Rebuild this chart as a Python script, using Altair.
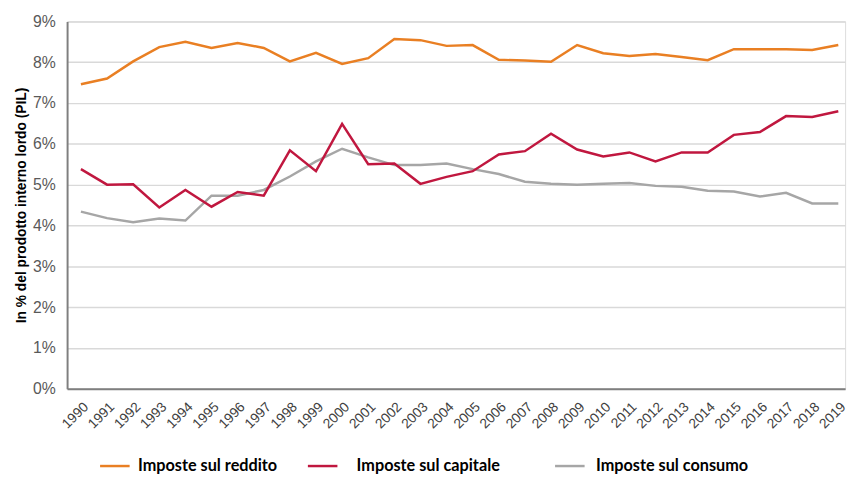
import altair as alt
import pandas as pd

anni = list(range(1990, 2020))
reddito = [7.46, 7.60, 8.02, 8.37, 8.50, 8.35, 8.47, 8.35, 8.02, 8.23,
           7.96, 8.10, 8.57, 8.54, 8.40, 8.42, 8.06, 8.04, 8.01, 8.42,
           8.22, 8.15, 8.20, 8.13, 8.05, 8.32, 8.32, 8.32, 8.30, 8.42]
capitale = [5.38, 5.00, 5.01, 4.44, 4.87, 4.46, 4.82, 4.73, 5.84, 5.33,
            6.49, 5.50, 5.52, 5.02, 5.19, 5.33, 5.74, 5.82, 6.25, 5.86,
            5.69, 5.79, 5.57, 5.79, 5.79, 6.22, 6.29, 6.68, 6.66, 6.80]
consumo = [4.34, 4.18, 4.08, 4.17, 4.12, 4.73, 4.73, 4.87, 5.20, 5.57,
           5.88, 5.67, 5.48, 5.48, 5.52, 5.38, 5.26, 5.07, 5.02, 5.00,
           5.02, 5.04, 4.97, 4.95, 4.85, 4.83, 4.71, 4.80, 4.54, 4.54]

serie = ["Imposte sul reddito", "Imposte sul capitale", "Imposte sul consumo"]
colori = ["#E97F23", "#C0173F", "#A6A6A6"]
valori = [reddito, capitale, consumo]
legend_x = [32, 243, 494]
legend_off = [7, 18, 10]

rows = []
for nome, vals in zip(serie, valori):
    for a, v in zip(anni, vals):
        rows.append({"anno": a, "valore": v, "serie": nome})
df = pd.DataFrame(rows)

x_enc = alt.X(
    "anno:Q",
    scale=alt.Scale(domain=[1989.47, 2019.26], nice=False, zero=False),
    axis=alt.Axis(values=anni, format="d", labelAngle=-45, title=None, grid=False,
                  ticks=False, labelPadding=11, labelFontSize=14, labelColor="#404040",
                  labelFont="Liberation Sans", domainColor="#7F7F7F", domainWidth=2,
                  labelOverlap=False, labelBound=False, labelFlush=False),
)
y_enc = alt.Y(
    "valore:Q",
    scale=alt.Scale(domain=[0, 9], nice=False),
    axis=alt.Axis(values=list(range(10)), labelExpr="datum.value + '%'",
                  title="In % del prodotto interno lordo (PIL)", titleFontSize=14,
                  titleFontWeight="bold", titleColor="#000000", titleFont="Liberation Sans",
                  titlePadding=4, ticks=False, labelPadding=12, labelFontSize=16,
                  labelColor="#595959", labelFont="Liberation Sans",
                  grid=True, gridColor="#D9D9D9", gridWidth=1.5,
                  domainColor="#7F7F7F", domainWidth=2),
)

layers = []
order = [2, 1, 0]
for i in order:
    nome, col = serie[i], colori[i]
    layers.append(
        alt.Chart(df)
        .transform_filter(alt.datum.serie == nome)
        .mark_line(strokeWidth=2.5)
        .encode(
            x=x_enc,
            y=y_enc,
            color=alt.Color(
                "serie:N",
                scale=alt.Scale(domain=[nome], range=[col]),
                legend=alt.Legend(orient="none", legendX=legend_x[i], legendY=435,
                                  title=None, symbolType="stroke", symbolSize=900,
                                  symbolStrokeWidth=2.5, labelFontSize=16.5,
                                  labelFontWeight="bold", labelFont="Lato",
                                  labelColor="#000000", labelOffset=legend_off[i],
                                  padding=0),
            ),
        )
    )

chart = (
    alt.layer(*layers)
    .resolve_scale(color="independent")
    .properties(width=790, height=373,
                autosize=alt.AutoSizeParams(type="none"),
                padding={"left": 60, "top": 10, "right": 6, "bottom": 84})
    .configure_view(stroke=None)
    .configure(background="#FFFFFF")
)

chart.save("out.html", embed_options={"renderer": "svg", "actions": False})
